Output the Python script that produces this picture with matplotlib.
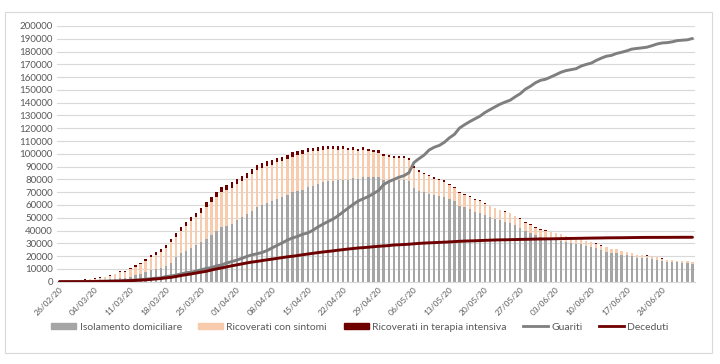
import matplotlib

matplotlib.use("Agg")

import matplotlib.pyplot as plt
import numpy as np
import pandas as pd
from matplotlib.lines import Line2D
from matplotlib.patches import Patch, Rectangle

plt.rcParams["font.family"] = ["Lato", "DejaVu Sans"]

dates = pd.date_range("2020-02-26", "2020-06-30", freq="D")

isolamento = [
    221, 284, 412, 543,
    798, 927, 1000, 1065, 1155, 1060, 1843, 2180, 2936, 2599, 3724, 5036, 6201, 7860, 9268, 10197,
    10590, 12090, 14935, 19185, 22116, 23783, 26522, 28697, 30920, 33648, 36653, 39533, 42588, 43752, 45420,
    48134, 50456, 52577, 55270, 58320, 60313, 61557, 63084, 64873, 66034, 67944, 69963, 71033, 71594, 73828,
    75078, 76564, 77602, 78689, 78858, 79204, 79610, 79808, 80822, 80312, 81604, 81752, 81719, 81752, 79908,
    79710, 79304, 79636, 79878, 79070, 73126, 70957, 69970, 68974, 67679, 66950, 66449, 64392, 63132, 59570,
    58112, 56478, 54797, 53722, 51852, 50451, 49170, 47885, 46928, 46074, 44004, 42232, 39718, 38206, 36161, 34853,
    34444, 33169, 32802, 32188, 30959, 30182, 29711, 29318, 27728, 26841, 25970, 24577, 23218, 22164, 22099,
    21105, 20568, 19893, 18608, 18381, 18267, 18060, 17210, 16513, 15623, 15493, 15033, 14928, 14918, 14206,
]
ricoverati = [
    128, 248, 345, 401,
    639, 742, 1034, 1346, 1790, 2394, 2651, 3557, 4316, 5038, 5838, 6650, 7426, 8372, 9663, 11025,
    12894, 14363, 15757, 16020, 17708, 19846, 20692, 21937, 23112, 24753, 26029, 26676, 27386, 27795, 28192,
    28403, 28540, 28741, 29010, 28949, 28976, 28718, 28485, 28399, 28242, 28144, 27847, 28023, 28011, 27643,
    26893, 26033, 25786, 25007, 24906, 24134, 23805, 22871, 22068, 21533, 21372, 20353, 19723, 19210, 18149,
    17569, 17357, 17242, 16823, 16270, 15769, 15174, 14136, 13334, 12818, 12539, 11865, 11172, 10453, 9992,
    9600, 9511, 9407, 9191, 8824, 8469, 8157, 7895, 7813, 7385, 7117, 6929, 6579, 6294, 5980, 5687,
    5499, 5316, 5142, 4903, 4701, 4502, 4364, 4229, 4081, 3920, 3831, 3693, 3547, 3394, 3101,
    2857, 2767, 2640, 2374, 2279, 2157, 2050, 1848, 1629, 1508, 1438, 1300, 1253, 1084, 964,
]
terapia_intensiva = [
    36, 56, 64, 105,
    140, 166, 229, 295, 351, 462, 567, 650, 733, 877, 1028, 1153, 1328, 1518, 1672, 1851,
    2060, 2257, 2498, 2655, 2857, 3009, 3204, 3396, 3489, 3612, 3732, 3856, 3906, 3981, 4023,
    4035, 4053, 4068, 3994, 3977, 3898, 3792, 3693, 3605, 3497, 3381, 3343, 3260, 3186, 3079,
    2936, 2812, 2733, 2635, 2573, 2471, 2384, 2267, 2173, 2102, 2009, 1956, 1863, 1795, 1694,
    1578, 1539, 1501, 1479, 1427, 1333, 1311, 1168, 1034, 1027, 999, 952, 893, 855, 808,
    775, 762, 749, 716, 676, 640, 595, 572, 553, 541, 521, 505, 489, 475, 450, 435,
    424, 408, 353, 338, 316, 293, 287, 283, 263, 249, 236, 227, 220, 216, 209,
    207, 190, 168, 161, 152, 148, 127, 115, 113, 107, 110, 103, 100, 94, 93,
]
guariti = [
    3, 45, 46, 46,
    50, 149, 160, 276, 414, 523, 589, 622, 724, 1004, 1045, 1258, 1439, 1966, 2335, 2749,
    2941, 4025, 4440, 5129, 6072, 7024, 7432, 8326, 9362, 10361, 10950, 12384, 13030, 14620, 15729,
    16847, 18278, 19758, 20996, 21815, 22837, 24392, 26491, 28470, 30455, 32534, 34211, 35435, 37130, 38092,
    40164, 42727, 44927, 47055, 48877, 51600, 54543, 57576, 60498, 63120, 64928, 66624, 68941, 71252, 75945,
    78249, 79914, 81654, 82879, 85231, 93245, 96276, 99023, 103031, 105186, 106587, 109039, 112541, 115288, 120205,
    122810, 125176, 127326, 129401, 132282, 134560, 136720, 138840, 140479, 141981, 144658, 147101, 150604, 152844, 155633, 157507,
    158355, 160092, 161895, 163781, 165078, 165837, 166584, 168646, 169939, 170940, 173085, 174865, 176370, 177010, 178526,
    179455, 180544, 181907, 182453, 182893, 183426, 184585, 185894, 186725, 186985, 187615, 188584, 188891, 189196, 190248,
]
deceduti = [
    12, 17, 21, 29,
    34, 52, 79, 107, 148, 197, 233, 366, 463, 631, 827, 1016, 1266, 1441, 1809, 2158,
    2503, 2978, 3405, 4032, 4825, 5476, 6077, 6820, 7503, 8165, 9134, 10023, 10779, 11591, 12428,
    13155, 13915, 14681, 15362, 15887, 16523, 17127, 17669, 18279, 18849, 19468, 19899, 20465, 21067, 21645,
    22170, 22745, 23227, 23660, 24114, 24648, 25085, 25549, 25969, 26384, 26644, 26977, 27359, 27682, 27967,
    28236, 28710, 28884, 29079, 29315, 29684, 29958, 30201, 30395, 30560, 30739, 30911, 31106, 31368, 31610,
    31763, 31908, 32007, 32169, 32330, 32486, 32616, 32735, 32785, 32877, 32955, 33072, 33142, 33229, 33340, 33415,
    33475, 33530, 33601, 33689, 33774, 33846, 33899, 33964, 34043, 34114, 34167, 34223, 34301, 34345, 34371,
    34405, 34448, 34514, 34561, 34610, 34634, 34657, 34657, 34675, 34678, 34708, 34716, 34738, 34744, 34767,
]

GREY = "#A5A5A5"
PEACH = "#F8CBAD"
DARKRED = "#6E0000"
LINEGREY = "#7F7F7F"
TXT = "#595959"

x = np.arange(len(dates))
iso = np.array(isolamento)
rcs = np.array(ricoverati)
ti = np.array(terapia_intensiva)

fig = plt.figure(figsize=(7.2, 3.64), dpi=100)
fig.patches.append(Rectangle((5 / 720, 1 - 353 / 364), 707 / 720, 341 / 364,
                             transform=fig.transFigure, fill=False,
                             edgecolor="#D9D9D9", linewidth=0.8))
ax = fig.add_axes([57 / 720, 1 - 281.7 / 364, 638 / 720, 255.7 / 364])

w = 0.45
ax.bar(x, iso, width=w, color=GREY, zorder=2)
ax.bar(x, rcs, width=w, bottom=iso, color=PEACH, zorder=2)
ax.bar(x, ti, width=w, bottom=iso + rcs, color=DARKRED, zorder=2)
ax.plot(x, guariti, color=LINEGREY, lw=2.1, zorder=3, solid_capstyle="round")
ax.plot(x, deceduti, color=DARKRED, lw=2.1, zorder=4, solid_capstyle="round")

ax.set_xlim(-0.5, len(dates) - 0.5)
ax.set_ylim(0, 200000)
ax.set_yticks(np.arange(0, 200001, 10000))
ax.set_yticklabels([str(v) for v in range(0, 200001, 10000)], fontsize=7, color=TXT)
ticks = x[::7]
ax.set_xticks(ticks)
ax.set_xticklabels([dates[i].strftime("%d/%m/%y") for i in ticks],
                   rotation=45, ha="right", rotation_mode="anchor",
                   fontsize=6, color=TXT)
ax.tick_params(axis="both", length=0, pad=3)
ax.grid(axis="y", color="#D9D9D9", linewidth=0.8, zorder=0)
for s in ["top", "right", "left"]:
    ax.spines[s].set_visible(False)
ax.spines["bottom"].set_color("#D9D9D9")

handles = [
    Patch(color=GREY, label="Isolamento domiciliare"),
    Patch(color=PEACH, label="Ricoverati con sintomi"),
    Patch(color=DARKRED, label="Ricoverati in terapia intensiva"),
    Line2D([], [], color=LINEGREY, lw=2.0, label="Guariti"),
    Line2D([], [], color=DARKRED, lw=2.0, label="Deceduti"),
]
leg = fig.legend(handles=handles, loc="center", bbox_to_anchor=(0.5, 1 - 327 / 364),
                 ncol=5, frameon=False, fontsize=7.5, handlelength=2.4,
                 handleheight=0.5, handletextpad=0.3, columnspacing=1.6)
for t in leg.get_texts():
    t.set_color(TXT)

fig.savefig("out.png", dpi=100)
